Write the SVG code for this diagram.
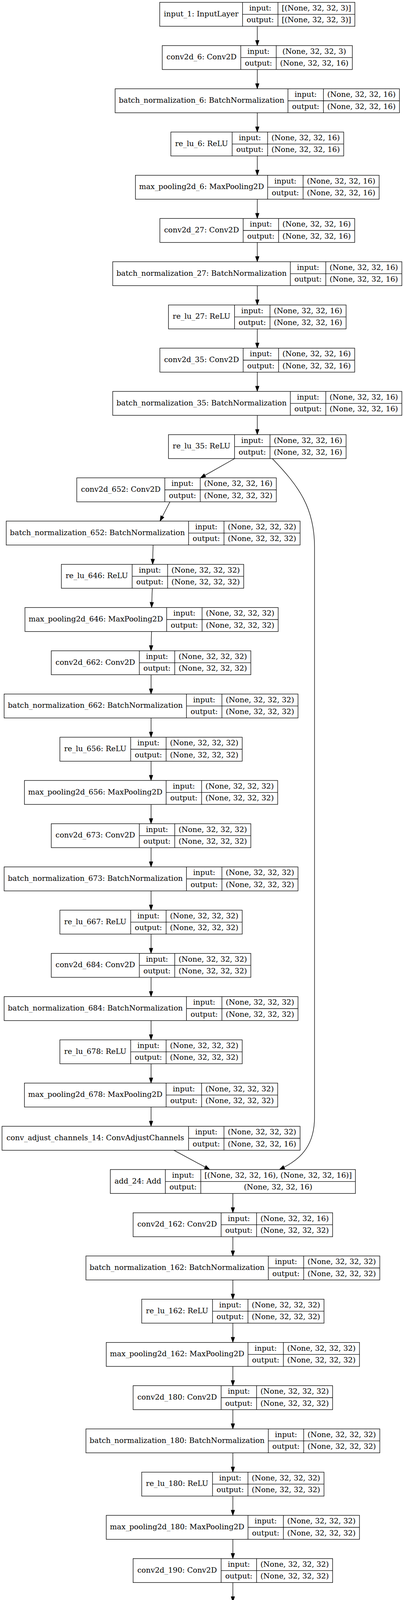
<svg xmlns="http://www.w3.org/2000/svg" width="1034" height="5164" viewBox="0 0 1034 5164">
<style>
.n rect{fill:#fff;stroke:#000;stroke-width:1.33}
.n path{fill:none;stroke:#000;stroke-width:1.33}
text{font-family:"DejaVu Serif","Liberation Serif",serif;font-size:19px;text-anchor:middle;fill:#000}
.e path{fill:none;stroke:#000;stroke-width:1.33;marker-end:url(#ah)}
</style>
<defs>
<marker id="ah" markerUnits="userSpaceOnUse" markerWidth="13.33" markerHeight="9.33" viewBox="0 0 13.33 9.33" refX="0" refY="4.667" orient="auto" overflow="visible"><path d="M0,0L13.33,4.667L0,9.33z" fill="#000" stroke="#000" stroke-width="1"/></marker>
</defs>
<rect width="1034" height="5164" fill="#fff"/>
<g id="edges" class="e">
<path d="M658.5,67.33V103.33"/>
<path d="M658.5,178V214"/>
<path d="M658.5,288.67V324.67"/>
<path d="M658.5,399.33V435.33"/>
<path d="M658.5,510V546"/>
<path d="M658.5,620.67V656.67"/>
<path d="M658.5,731.33V767.33"/>
<path d="M658.5,842V878"/>
<path d="M658.5,952.67V988.67"/>
<path d="M658.5,1063.33V1099.33"/>
<path d="M600.5,1174L524.6,1216.8"/>
<path d="M435,1284.67L415.6,1322.2"/>
<path d="M391.8,1395.33L391,1431.33"/>
<path d="M389.8,1506L388.5,1542"/>
<path d="M387.8,1616.67L386.8,1652.67"/>
<path d="M386.6,1727.33V1763.33"/>
<path d="M386.6,1838V1874"/>
<path d="M386.6,1948.67V1984.67"/>
<path d="M386.6,2059.33V2095.33"/>
<path d="M386.6,2170V2206"/>
<path d="M386.6,2280.67V2316.67"/>
<path d="M386.6,2391.33V2427.33"/>
<path d="M386.6,2502V2538"/>
<path d="M386.6,2612.67V2648.67"/>
<path d="M386.6,2723.33V2759.33"/>
<path d="M386.6,2834V2870"/>
<path d="M445,2944.67L524.96,2987.68"/>
<path d="M697,1174C765,1245 805,1300 805,1400L805,2860C805,2930 772,2965 727,2988"/>
<path d="M596,3055.33V3091.33"/>
<path d="M596,3166V3202"/>
<path d="M596,3276.67V3312.67"/>
<path d="M596,3387.33V3423.33"/>
<path d="M596,3498V3534"/>
<path d="M596,3608.67V3644.67"/>
<path d="M596,3719.33V3755.33"/>
<path d="M596,3830V3866"/>
<path d="M596,3940.67V3976.67"/>
<path d="M596,4051.33V4087.33"/>
<path d="M596,4162V4198"/>
<path d="M596,4272.67V4308.67"/>
<path d="M596,4383.33V4419.33"/>
<path d="M596,4494V4530"/>
<path d="M596,4604.67V4640.67"/>
<path d="M596,4715.33V4751.33"/>
<path d="M596,4826V4862"/>
<path d="M596,4936.67V4972.67"/>
<path d="M596,5047.33V5083.33"/>
</g>

<g id="input_1" class="n" transform="translate(408.75,6)"><rect width="499.5" height="61.33"/><path d="M212,0V61.33M302.7,0V61.33M212,30.67H499.5"/><text x="106" y="35.8">input_1: InputLayer</text><text x="257.35" y="21">input:</text><text x="257.35" y="51.3">output:</text><text x="401.1" y="21">[(None, 32, 32, 3)]</text><text x="401.1" y="51.3">[(None, 32, 32, 3)]</text></g>

<g id="conv2d_6" class="n" transform="translate(415.3,116.67)"><rect width="486.4" height="61.33"/><path d="M201,0V61.33M291.7,0V61.33M201,30.67H486.4"/><text x="100.5" y="35.8">conv2d_6: Conv2D</text><text x="246.35" y="21">input:</text><text x="246.35" y="51.3">output:</text><text x="389.05" y="21">(None, 32, 32, 3)</text><text x="389.05" y="51.3">(None, 32, 32, 16)</text></g>

<g id="batch_normalization_6" class="n" transform="translate(294.6,227.33)"><rect width="727.8" height="61.33"/><path d="M442.4,0V61.33M533.1,0V61.33M442.4,30.67H727.8"/><text x="221.2" y="35.8">batch_normalization_6: BatchNormalization</text><text x="487.75" y="21">input:</text><text x="487.75" y="51.3">output:</text><text x="630.45" y="21">(None, 32, 32, 16)</text><text x="630.45" y="51.3">(None, 32, 32, 16)</text></g>

<g id="re_lu_6" class="n" transform="translate(437.35,338)"><rect width="442.3" height="61.33"/><path d="M156.9,0V61.33M247.6,0V61.33M156.9,30.67H442.3"/><text x="78.45" y="35.8">re_lu_6: ReLU</text><text x="202.25" y="21">input:</text><text x="202.25" y="51.3">output:</text><text x="344.95" y="21">(None, 32, 32, 16)</text><text x="344.95" y="51.3">(None, 32, 32, 16)</text></g>

<g id="max_pooling2d_6" class="n" transform="translate(346.6,448.67)"><rect width="623.8" height="61.33"/><path d="M338.4,0V61.33M429.1,0V61.33M338.4,30.67H623.8"/><text x="169.2" y="35.8">max_pooling2d_6: MaxPooling2D</text><text x="383.75" y="21">input:</text><text x="383.75" y="51.3">output:</text><text x="526.45" y="21">(None, 32, 32, 16)</text><text x="526.45" y="51.3">(None, 32, 32, 16)</text></g>

<g id="conv2d_27" class="n" transform="translate(409.2,559.33)"><rect width="498.6" height="61.33"/><path d="M213.2,0V61.33M303.9,0V61.33M213.2,30.67H498.6"/><text x="106.6" y="35.8">conv2d_27: Conv2D</text><text x="258.55" y="21">input:</text><text x="258.55" y="51.3">output:</text><text x="401.25" y="21">(None, 32, 32, 16)</text><text x="401.25" y="51.3">(None, 32, 32, 16)</text></g>

<g id="batch_normalization_27" class="n" transform="translate(288.5,670)"><rect width="740" height="61.33"/><path d="M454.6,0V61.33M545.3,0V61.33M454.6,30.67H740"/><text x="227.3" y="35.8">batch_normalization_27: BatchNormalization</text><text x="499.95" y="21">input:</text><text x="499.95" y="51.3">output:</text><text x="642.65" y="21">(None, 32, 32, 16)</text><text x="642.65" y="51.3">(None, 32, 32, 16)</text></g>

<g id="re_lu_27" class="n" transform="translate(431.25,780.67)"><rect width="454.5" height="61.33"/><path d="M169.1,0V61.33M259.8,0V61.33M169.1,30.67H454.5"/><text x="84.55" y="35.8">re_lu_27: ReLU</text><text x="214.45" y="21">input:</text><text x="214.45" y="51.3">output:</text><text x="357.15" y="21">(None, 32, 32, 16)</text><text x="357.15" y="51.3">(None, 32, 32, 16)</text></g>

<g id="conv2d_35" class="n" transform="translate(409.2,891.33)"><rect width="498.6" height="61.33"/><path d="M213.2,0V61.33M303.9,0V61.33M213.2,30.67H498.6"/><text x="106.6" y="35.8">conv2d_35: Conv2D</text><text x="258.55" y="21">input:</text><text x="258.55" y="51.3">output:</text><text x="401.25" y="21">(None, 32, 32, 16)</text><text x="401.25" y="51.3">(None, 32, 32, 16)</text></g>

<g id="batch_normalization_35" class="n" transform="translate(288.5,1002)"><rect width="740" height="61.33"/><path d="M454.6,0V61.33M545.3,0V61.33M454.6,30.67H740"/><text x="227.3" y="35.8">batch_normalization_35: BatchNormalization</text><text x="499.95" y="21">input:</text><text x="499.95" y="51.3">output:</text><text x="642.65" y="21">(None, 32, 32, 16)</text><text x="642.65" y="51.3">(None, 32, 32, 16)</text></g>

<g id="re_lu_35" class="n" transform="translate(431.25,1112.67)"><rect width="454.5" height="61.33"/><path d="M169.1,0V61.33M259.8,0V61.33M169.1,30.67H454.5"/><text x="84.55" y="35.8">re_lu_35: ReLU</text><text x="214.45" y="21">input:</text><text x="214.45" y="51.3">output:</text><text x="357.15" y="21">(None, 32, 32, 16)</text><text x="357.15" y="51.3">(None, 32, 32, 16)</text></g>

<g id="conv2d_652" class="n" transform="translate(196.5,1223.33)"><rect width="510.7" height="61.33"/><path d="M225.3,0V61.33M316,0V61.33M225.3,30.67H510.7"/><text x="112.65" y="35.8">conv2d_652: Conv2D</text><text x="270.65" y="21">input:</text><text x="270.65" y="51.3">output:</text><text x="413.35" y="21">(None, 32, 32, 16)</text><text x="413.35" y="51.3">(None, 32, 32, 32)</text></g>

<g id="batch_normalization_652" class="n" transform="translate(15.95,1334)"><rect width="752.1" height="61.33"/><path d="M466.7,0V61.33M557.4,0V61.33M466.7,30.67H752.1"/><text x="233.35" y="35.8">batch_normalization_652: BatchNormalization</text><text x="512.05" y="21">input:</text><text x="512.05" y="51.3">output:</text><text x="654.75" y="21">(None, 32, 32, 32)</text><text x="654.75" y="51.3">(None, 32, 32, 32)</text></g>

<g id="re_lu_646" class="n" transform="translate(157.1,1444.67)"><rect width="466.6" height="61.33"/><path d="M181.2,0V61.33M271.9,0V61.33M181.2,30.67H466.6"/><text x="90.6" y="35.8">re_lu_646: ReLU</text><text x="226.55" y="21">input:</text><text x="226.55" y="51.3">output:</text><text x="369.25" y="21">(None, 32, 32, 32)</text><text x="369.25" y="51.3">(None, 32, 32, 32)</text></g>

<g id="max_pooling2d_646" class="n" transform="translate(63.85,1555.33)"><rect width="648.1" height="61.33"/><path d="M362.7,0V61.33M453.4,0V61.33M362.7,30.67H648.1"/><text x="181.35" y="35.8">max_pooling2d_646: MaxPooling2D</text><text x="408.05" y="21">input:</text><text x="408.05" y="51.3">output:</text><text x="550.75" y="21">(None, 32, 32, 32)</text><text x="550.75" y="51.3">(None, 32, 32, 32)</text></g>

<g id="conv2d_662" class="n" transform="translate(131.25,1666)"><rect width="510.7" height="61.33"/><path d="M225.3,0V61.33M316,0V61.33M225.3,30.67H510.7"/><text x="112.65" y="35.8">conv2d_662: Conv2D</text><text x="270.65" y="21">input:</text><text x="270.65" y="51.3">output:</text><text x="413.35" y="21">(None, 32, 32, 32)</text><text x="413.35" y="51.3">(None, 32, 32, 32)</text></g>

<g id="batch_normalization_662" class="n" transform="translate(10.55,1776.67)"><rect width="752.1" height="61.33"/><path d="M466.7,0V61.33M557.4,0V61.33M466.7,30.67H752.1"/><text x="233.35" y="35.8">batch_normalization_662: BatchNormalization</text><text x="512.05" y="21">input:</text><text x="512.05" y="51.3">output:</text><text x="654.75" y="21">(None, 32, 32, 32)</text><text x="654.75" y="51.3">(None, 32, 32, 32)</text></g>

<g id="re_lu_656" class="n" transform="translate(153.3,1887.33)"><rect width="466.6" height="61.33"/><path d="M181.2,0V61.33M271.9,0V61.33M181.2,30.67H466.6"/><text x="90.6" y="35.8">re_lu_656: ReLU</text><text x="226.55" y="21">input:</text><text x="226.55" y="51.3">output:</text><text x="369.25" y="21">(None, 32, 32, 32)</text><text x="369.25" y="51.3">(None, 32, 32, 32)</text></g>

<g id="max_pooling2d_656" class="n" transform="translate(62.55,1998)"><rect width="648.1" height="61.33"/><path d="M362.7,0V61.33M453.4,0V61.33M362.7,30.67H648.1"/><text x="181.35" y="35.8">max_pooling2d_656: MaxPooling2D</text><text x="408.05" y="21">input:</text><text x="408.05" y="51.3">output:</text><text x="550.75" y="21">(None, 32, 32, 32)</text><text x="550.75" y="51.3">(None, 32, 32, 32)</text></g>

<g id="conv2d_673" class="n" transform="translate(131.25,2108.67)"><rect width="510.7" height="61.33"/><path d="M225.3,0V61.33M316,0V61.33M225.3,30.67H510.7"/><text x="112.65" y="35.8">conv2d_673: Conv2D</text><text x="270.65" y="21">input:</text><text x="270.65" y="51.3">output:</text><text x="413.35" y="21">(None, 32, 32, 32)</text><text x="413.35" y="51.3">(None, 32, 32, 32)</text></g>

<g id="batch_normalization_673" class="n" transform="translate(10.55,2219.33)"><rect width="752.1" height="61.33"/><path d="M466.7,0V61.33M557.4,0V61.33M466.7,30.67H752.1"/><text x="233.35" y="35.8">batch_normalization_673: BatchNormalization</text><text x="512.05" y="21">input:</text><text x="512.05" y="51.3">output:</text><text x="654.75" y="21">(None, 32, 32, 32)</text><text x="654.75" y="51.3">(None, 32, 32, 32)</text></g>

<g id="re_lu_667" class="n" transform="translate(153.3,2330)"><rect width="466.6" height="61.33"/><path d="M181.2,0V61.33M271.9,0V61.33M181.2,30.67H466.6"/><text x="90.6" y="35.8">re_lu_667: ReLU</text><text x="226.55" y="21">input:</text><text x="226.55" y="51.3">output:</text><text x="369.25" y="21">(None, 32, 32, 32)</text><text x="369.25" y="51.3">(None, 32, 32, 32)</text></g>

<g id="conv2d_684" class="n" transform="translate(131.25,2440.67)"><rect width="510.7" height="61.33"/><path d="M225.3,0V61.33M316,0V61.33M225.3,30.67H510.7"/><text x="112.65" y="35.8">conv2d_684: Conv2D</text><text x="270.65" y="21">input:</text><text x="270.65" y="51.3">output:</text><text x="413.35" y="21">(None, 32, 32, 32)</text><text x="413.35" y="51.3">(None, 32, 32, 32)</text></g>

<g id="batch_normalization_684" class="n" transform="translate(10.55,2551.33)"><rect width="752.1" height="61.33"/><path d="M466.7,0V61.33M557.4,0V61.33M466.7,30.67H752.1"/><text x="233.35" y="35.8">batch_normalization_684: BatchNormalization</text><text x="512.05" y="21">input:</text><text x="512.05" y="51.3">output:</text><text x="654.75" y="21">(None, 32, 32, 32)</text><text x="654.75" y="51.3">(None, 32, 32, 32)</text></g>

<g id="re_lu_678" class="n" transform="translate(153.3,2662)"><rect width="466.6" height="61.33"/><path d="M181.2,0V61.33M271.9,0V61.33M181.2,30.67H466.6"/><text x="90.6" y="35.8">re_lu_678: ReLU</text><text x="226.55" y="21">input:</text><text x="226.55" y="51.3">output:</text><text x="369.25" y="21">(None, 32, 32, 32)</text><text x="369.25" y="51.3">(None, 32, 32, 32)</text></g>

<g id="max_pooling2d_678" class="n" transform="translate(62.55,2772.67)"><rect width="648.1" height="61.33"/><path d="M362.7,0V61.33M453.4,0V61.33M362.7,30.67H648.1"/><text x="181.35" y="35.8">max_pooling2d_678: MaxPooling2D</text><text x="408.05" y="21">input:</text><text x="408.05" y="51.3">output:</text><text x="550.75" y="21">(None, 32, 32, 32)</text><text x="550.75" y="51.3">(None, 32, 32, 32)</text></g>

<g id="conv_adjust_channels_14" class="n" transform="translate(5.2,2883.33)"><rect width="762.8" height="61.33"/><path d="M477.4,0V61.33M568.1,0V61.33M477.4,30.67H762.8"/><text x="238.7" y="35.8">conv_adjust_channels_14: ConvAdjustChannels</text><text x="522.75" y="21">input:</text><text x="522.75" y="51.3">output:</text><text x="665.45" y="21">(None, 32, 32, 32)</text><text x="665.45" y="51.3">(None, 32, 32, 16)</text></g>

<g id="add_24" class="n" transform="translate(282.4,2994)"><rect width="627.2" height="61.33"/><path d="M140.8,0V61.33M231.5,0V61.33M140.8,30.67H627.2"/><text x="70.4" y="35.8">add_24: Add</text><text x="186.15" y="21">input:</text><text x="186.15" y="51.3">output:</text><text x="429.35" y="21">[(None, 32, 32, 16), (None, 32, 32, 16)]</text><text x="429.35" y="51.3">(None, 32, 32, 16)</text></g>

<g id="conv2d_162" class="n" transform="translate(340.65,3104.67)"><rect width="510.7" height="61.33"/><path d="M225.3,0V61.33M316,0V61.33M225.3,30.67H510.7"/><text x="112.65" y="35.8">conv2d_162: Conv2D</text><text x="270.65" y="21">input:</text><text x="270.65" y="51.3">output:</text><text x="413.35" y="21">(None, 32, 32, 16)</text><text x="413.35" y="51.3">(None, 32, 32, 32)</text></g>

<g id="batch_normalization_162" class="n" transform="translate(219.95,3215.33)"><rect width="752.1" height="61.33"/><path d="M466.7,0V61.33M557.4,0V61.33M466.7,30.67H752.1"/><text x="233.35" y="35.8">batch_normalization_162: BatchNormalization</text><text x="512.05" y="21">input:</text><text x="512.05" y="51.3">output:</text><text x="654.75" y="21">(None, 32, 32, 32)</text><text x="654.75" y="51.3">(None, 32, 32, 32)</text></g>

<g id="re_lu_162" class="n" transform="translate(362.7,3326)"><rect width="466.6" height="61.33"/><path d="M181.2,0V61.33M271.9,0V61.33M181.2,30.67H466.6"/><text x="90.6" y="35.8">re_lu_162: ReLU</text><text x="226.55" y="21">input:</text><text x="226.55" y="51.3">output:</text><text x="369.25" y="21">(None, 32, 32, 32)</text><text x="369.25" y="51.3">(None, 32, 32, 32)</text></g>

<g id="max_pooling2d_162" class="n" transform="translate(271.95,3436.67)"><rect width="648.1" height="61.33"/><path d="M362.7,0V61.33M453.4,0V61.33M362.7,30.67H648.1"/><text x="181.35" y="35.8">max_pooling2d_162: MaxPooling2D</text><text x="408.05" y="21">input:</text><text x="408.05" y="51.3">output:</text><text x="550.75" y="21">(None, 32, 32, 32)</text><text x="550.75" y="51.3">(None, 32, 32, 32)</text></g>

<g id="conv2d_180" class="n" transform="translate(340.65,3547.33)"><rect width="510.7" height="61.33"/><path d="M225.3,0V61.33M316,0V61.33M225.3,30.67H510.7"/><text x="112.65" y="35.8">conv2d_180: Conv2D</text><text x="270.65" y="21">input:</text><text x="270.65" y="51.3">output:</text><text x="413.35" y="21">(None, 32, 32, 32)</text><text x="413.35" y="51.3">(None, 32, 32, 32)</text></g>

<g id="batch_normalization_180" class="n" transform="translate(219.95,3658)"><rect width="752.1" height="61.33"/><path d="M466.7,0V61.33M557.4,0V61.33M466.7,30.67H752.1"/><text x="233.35" y="35.8">batch_normalization_180: BatchNormalization</text><text x="512.05" y="21">input:</text><text x="512.05" y="51.3">output:</text><text x="654.75" y="21">(None, 32, 32, 32)</text><text x="654.75" y="51.3">(None, 32, 32, 32)</text></g>

<g id="re_lu_180" class="n" transform="translate(362.7,3768.67)"><rect width="466.6" height="61.33"/><path d="M181.2,0V61.33M271.9,0V61.33M181.2,30.67H466.6"/><text x="90.6" y="35.8">re_lu_180: ReLU</text><text x="226.55" y="21">input:</text><text x="226.55" y="51.3">output:</text><text x="369.25" y="21">(None, 32, 32, 32)</text><text x="369.25" y="51.3">(None, 32, 32, 32)</text></g>

<g id="max_pooling2d_180" class="n" transform="translate(271.95,3879.33)"><rect width="648.1" height="61.33"/><path d="M362.7,0V61.33M453.4,0V61.33M362.7,30.67H648.1"/><text x="181.35" y="35.8">max_pooling2d_180: MaxPooling2D</text><text x="408.05" y="21">input:</text><text x="408.05" y="51.3">output:</text><text x="550.75" y="21">(None, 32, 32, 32)</text><text x="550.75" y="51.3">(None, 32, 32, 32)</text></g>

<g id="conv2d_190" class="n" transform="translate(340.65,3990)"><rect width="510.7" height="61.33"/><path d="M225.3,0V61.33M316,0V61.33M225.3,30.67H510.7"/><text x="112.65" y="35.8">conv2d_190: Conv2D</text><text x="270.65" y="21">input:</text><text x="270.65" y="51.3">output:</text><text x="413.35" y="21">(None, 32, 32, 32)</text><text x="413.35" y="51.3">(None, 32, 32, 32)</text></g>

<g id="batch_normalization_190" class="n" transform="translate(219.95,4100.67)"><rect width="752.1" height="61.33"/><path d="M466.7,0V61.33M557.4,0V61.33M466.7,30.67H752.1"/><text x="233.35" y="35.8">batch_normalization_190: BatchNormalization</text><text x="512.05" y="21">input:</text><text x="512.05" y="51.3">output:</text><text x="654.75" y="21">(None, 32, 32, 32)</text><text x="654.75" y="51.3">(None, 32, 32, 32)</text></g>

<g id="re_lu_190" class="n" transform="translate(362.7,4211.33)"><rect width="466.6" height="61.33"/><path d="M181.2,0V61.33M271.9,0V61.33M181.2,30.67H466.6"/><text x="90.6" y="35.8">re_lu_190: ReLU</text><text x="226.55" y="21">input:</text><text x="226.55" y="51.3">output:</text><text x="369.25" y="21">(None, 32, 32, 32)</text><text x="369.25" y="51.3">(None, 32, 32, 32)</text></g>

<g id="max_pooling2d_190" class="n" transform="translate(271.95,4322)"><rect width="648.1" height="61.33"/><path d="M362.7,0V61.33M453.4,0V61.33M362.7,30.67H648.1"/><text x="181.35" y="35.8">max_pooling2d_190: MaxPooling2D</text><text x="408.05" y="21">input:</text><text x="408.05" y="51.3">output:</text><text x="550.75" y="21">(None, 32, 32, 32)</text><text x="550.75" y="51.3">(None, 32, 32, 32)</text></g>

<g id="conv2d_198" class="n" transform="translate(340.65,4432.67)"><rect width="510.7" height="61.33"/><path d="M225.3,0V61.33M316,0V61.33M225.3,30.67H510.7"/><text x="112.65" y="35.8">conv2d_198: Conv2D</text><text x="270.65" y="21">input:</text><text x="270.65" y="51.3">output:</text><text x="413.35" y="21">(None, 32, 32, 32)</text><text x="413.35" y="51.3">(None, 32, 32, 32)</text></g>

<g id="batch_normalization_198" class="n" transform="translate(219.95,4543.33)"><rect width="752.1" height="61.33"/><path d="M466.7,0V61.33M557.4,0V61.33M466.7,30.67H752.1"/><text x="233.35" y="35.8">batch_normalization_198: BatchNormalization</text><text x="512.05" y="21">input:</text><text x="512.05" y="51.3">output:</text><text x="654.75" y="21">(None, 32, 32, 32)</text><text x="654.75" y="51.3">(None, 32, 32, 32)</text></g>

<g id="re_lu_198" class="n" transform="translate(362.7,4654)"><rect width="466.6" height="61.33"/><path d="M181.2,0V61.33M271.9,0V61.33M181.2,30.67H466.6"/><text x="90.6" y="35.8">re_lu_198: ReLU</text><text x="226.55" y="21">input:</text><text x="226.55" y="51.3">output:</text><text x="369.25" y="21">(None, 32, 32, 32)</text><text x="369.25" y="51.3">(None, 32, 32, 32)</text></g>

<g id="max_pooling2d_198" class="n" transform="translate(271.95,4764.67)"><rect width="648.1" height="61.33"/><path d="M362.7,0V61.33M453.4,0V61.33M362.7,30.67H648.1"/><text x="181.35" y="35.8">max_pooling2d_198: MaxPooling2D</text><text x="408.05" y="21">input:</text><text x="408.05" y="51.3">output:</text><text x="550.75" y="21">(None, 32, 32, 32)</text><text x="550.75" y="51.3">(None, 32, 32, 32)</text></g>

<g id="flatten_127" class="n" transform="translate(347.3,4875.33)"><rect width="497.4" height="61.33"/><path d="M212,0V61.33M302.7,0V61.33M212,30.67H497.4"/><text x="106" y="35.8">flatten_127: Flatten</text><text x="257.35" y="21">input:</text><text x="257.35" y="51.3">output:</text><text x="400.05" y="21">(None, 32, 32, 32)</text><text x="400.05" y="51.3">(None, 32768)</text></g>

<g id="dense_254" class="n" transform="translate(374,4986)"><rect width="444" height="61.33"/><path d="M195,0V61.33M285.7,0V61.33M195,30.67H444"/><text x="97.5" y="35.8">dense_254: Dense</text><text x="240.35" y="21">input:</text><text x="240.35" y="51.3">output:</text><text x="364.85" y="21">(None, 32768)</text><text x="364.85" y="51.3">(None, 256)</text></g>

<g id="dense_255" class="n" transform="translate(385.95,5096.67)"><rect width="420.1" height="61.33"/><path d="M194.7,0V61.33M285.4,0V61.33M194.7,30.67H420.1"/><text x="97.35" y="35.8">dense_255: Dense</text><text x="240.05" y="21">input:</text><text x="240.05" y="51.3">output:</text><text x="352.75" y="21">(None, 256)</text><text x="352.75" y="51.3">(None, 10)</text></g>
</svg>
